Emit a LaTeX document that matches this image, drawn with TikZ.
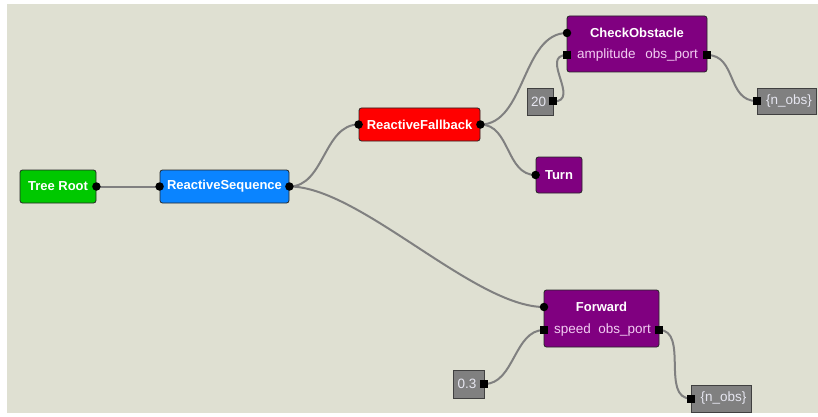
\documentclass[tikz,border=0pt]{standalone}
\usepackage{fontspec}
\setmainfont{Liberation Sans}
\definecolor{bgc}{RGB}{223,224,210}
\definecolor{rootgreen}{RGB}{0,200,0}
\definecolor{seqblue}{RGB}{10,132,255}
\definecolor{fbred}{RGB}{255,0,0}
\definecolor{purp}{RGB}{128,0,128}
\definecolor{valgray}{RGB}{128,128,128}
\definecolor{valtext}{RGB}{230,230,240}
\definecolor{wiregray}{RGB}{128,128,128}
\definecolor{portpink}{RGB}{242,205,242}
\pgfdeclarelayer{back}
\pgfdeclarelayer{wires}
\pgfsetlayers{back,wires,main}
\begin{document}
\begin{tikzpicture}[x=1pt,y=-1pt,
  box/.style={draw=black!85, line width=0.8pt, rounded corners=2.5pt, inner sep=0pt},
  title/.style={text=white, font=\bfseries\fontsize{13}{15}\selectfont, inner sep=0pt},
  val/.style={draw=black!75, fill=valgray, line width=0.8pt, inner sep=0pt},
  valt/.style={text=valtext, font=\fontsize{13.5}{15}\selectfont, inner sep=0pt},
  plabel/.style={text=portpink, font=\fontsize{13.5}{15}\selectfont, inner sep=0pt},
  pdot/.style={circle, fill=black, minimum size=8.5pt, inner sep=0pt},
  psq/.style={rectangle, fill=black, minimum size=8pt, inner sep=0pt},
  wire/.style={draw=wiregray, line width=2pt}]
\useasboundingbox (0,0) rectangle (818,417);
\begin{pgfonlayer}{back}
\fill[white] (0,0) rectangle (818,417);
\fill[bgc] (7,4) rectangle (818,413);
\end{pgfonlayer}

% Tree nodes
\node[box, fill=rootgreen, minimum width=76pt, minimum height=33pt] (root) at (58,186.5) {};
\node[title] (roott) at (root.center) {Tree Root};
\node[box, fill=seqblue, minimum width=129pt, minimum height=33pt] (seq) at (224.5,186.5) {};
\node[title] (seqt) at (seq.center) {ReactiveSequence};
\node[box, fill=fbred, minimum width=121pt, minimum height=33pt] (fb) at (419.5,124.5) {};
\node[title] (fbt) at (fb.center) {ReactiveFallback};
\node[box, fill=purp, minimum width=46pt, minimum height=36pt] (turn) at (559,175) {};
\node[title] (turnt) at (turn.center) {Turn};
\node[box, fill=purp, minimum width=140pt, minimum height=56pt] (co) at (637,44) {};
\node[title] (cot) at (637,33) {CheckObstacle};
\node[plabel, anchor=west] (coamp) at (577,55.5) {amplitude};
\node[plabel, anchor=east] (coobs) at (698,55.5) {obs\_port};
\node[box, fill=purp, minimum width=115pt, minimum height=57pt] (fw) at (601.5,318.5) {};
\node[title] (fwt) at (601.5,307) {Forward};
\node[plabel, anchor=west] (fwsp) at (554,330.5) {speed};
\node[plabel, anchor=east] (fwobs) at (651,330.5) {obs\_port};

% Value nodes
\node[val, minimum width=26pt, minimum height=27pt] (v20) at (540,101.5) {};
\node[valt] (v20t) at (538.5,101.5) {20};
\node[val, minimum width=59pt, minimum height=26pt] (n1) at (786.5,101) {};
\node[valt] (n1t) at (789,101) {\{n\_obs\}};
\node[val, minimum width=31pt, minimum height=28pt] (v03) at (468.5,384) {};
\node[valt] (v03t) at (467,384) {0.3};
\node[val, minimum width=60pt, minimum height=27pt] (n2) at (721,398.5) {};
\node[valt] (n2t) at (723.5,398.5) {\{n\_obs\}};

% Ports
\node[pdot] (root-o) at (root.east) {};
\node[pdot] (seq-i) at (seq.west) {};
\node[pdot] (seq-o) at (seq.east) {};
\node[pdot] (fb-i) at (fb.west) {};
\node[pdot] (fb-o) at (fb.east) {};
\node[pdot] (turn-i) at (turn.west) {};
\node[pdot] (co-i) at (567,33) {};
\node[psq] (co-amp) at (567,55) {};
\node[psq] (co-obs) at (707,55) {};
\node[pdot] (fw-i) at (544,307) {};
\node[psq] (fw-sp) at (544,330) {};
\node[psq] (fw-obs) at (659,330) {};
\node[psq] (v20-o) at (v20.east) {};
\node[psq] (n1-i) at (n1.west) {};
\node[psq] (v03-o) at (v03.east) {};
\node[psq] (n2-i) at (n2.west) {};

% Wires
\begin{pgfonlayer}{wires}
\draw[wire] (root-o.center) -- (seq-i.center);
\draw[wire] (seq-o.center) .. controls +(35,0) and +(-35,0) .. (fb-i.center);
\draw[wire] (seq-o.center) .. controls +(70,0) and +(-70,0) .. (fw-i.center);
\draw[wire] (fb-o.center) .. controls +(45,0) and +(-45,0) .. (co-i.center);
\draw[wire] (fb-o.center) .. controls +(30,0) and +(-30,0) .. (turn-i.center);
\draw[wire] (v20-o.center) .. controls +(28,0) and +(-28,0) .. (co-amp.center);
\draw[wire] (co-obs.center) .. controls +(30,0) and +(-30,0) .. (n1-i.center);
\draw[wire] (v03-o.center) .. controls +(30,0) and +(-30,0) .. (fw-sp.center);
\draw[wire] (fw-obs.center) .. controls +(30,0) and +(-30,0) .. (n2-i.center);
\end{pgfonlayer}
\end{tikzpicture}
\end{document}
